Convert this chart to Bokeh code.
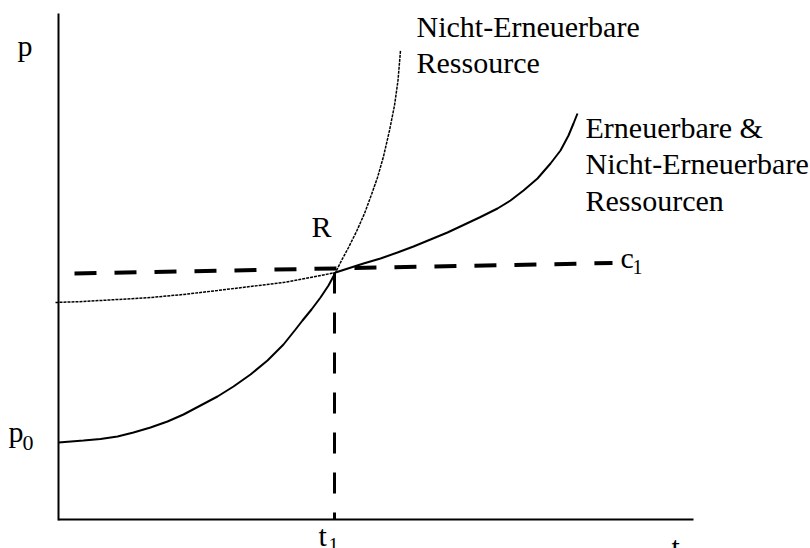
from bokeh.plotting import figure
from bokeh.models import Range1d
from bokeh.core.properties import value
from bokeh.embed import file_html
from bokeh.resources import INLINE

# ---- data (units: t along x, p along y) ----
t_axis_end = 635
p_axis_end = 506

# renewable & non-renewable (solid) curve, below R and above R
solid_t = [0, 25, 42, 59, 75, 92, 109, 125, 142, 159, 175, 192, 209, 225,
           237, 244, 253, 262, 270, 277,
           305, 322, 339, 355, 372, 389, 405, 422, 439, 452, 465, 479, 492,
           502, 510, 515, 519]
solid_p = [77, 79, 80.5, 83, 87, 92, 98, 105, 114, 123, 133, 145, 159, 175,
           190, 199, 210, 222, 234, 247,
           256, 261, 267, 273, 280, 287, 294.5, 302.5, 311, 319, 329, 341, 356,
           369, 384, 396, 406]

# non-renewable resource (dotted) curve
dot_t = [-3, 25, 59, 92, 125, 159, 192, 225, 252, 277, 283, 290, 298, 306,
         313, 319, 325, 331, 336, 339.5, 342]
dot_p = [217, 218, 220, 222, 225, 229, 233, 237, 242, 247, 259, 272, 288,
         306, 325, 342, 363, 389, 414, 439, 469]

# backstop cost line c1
c1_t = [16, 554]
c1_p = [246, 256.5]

# point R
R_t = 276
R_p = 247

FONT = value("Liberation Serif")

p = figure(width=810, height=548, output_backend="svg", toolbar_location=None,
           x_range=Range1d(-58, 752), y_range=Range1d(-29, 519),
           min_border=0, x_axis_location=None, y_axis_location=None)
p.grid.visible = False
p.outline_line_color = None
p.background_fill_color = "white"
p.border_fill_color = "white"

# axes
p.line([0, 0], [-1, p_axis_end], line_color="black", line_width=2)
p.line([0, t_axis_end], [0, 0], line_color="black", line_width=2)

# curves
p.line(dot_t, dot_p, line_color="black", line_width=1.5, line_dash="3 1")
p.line(solid_t, solid_p, line_color="black", line_width=2)

# dashed lines
p.line(c1_t, c1_p, line_color="black", line_width=4, line_dash="22 18")
p.line([R_t, R_t], [R_p, 0], line_color="black", line_width=3, line_dash="21 19")

def label(x, y, s, size=30):
    p.text(x=[x], y=[y + 0.34 * size], text=[s], text_font=FONT,
           text_font_size=f"{size}px",
           text_baseline="alphabetic", text_align="left", text_color="black")

label(-41, 464, "p")
label(-50, 78, "p")
label(-36, 69, "0", 22)
label(260, -26, "t")
label(270, -32, "1", 20)
label(613, -37, "t")
label(358, 483, "Nicht-Erneuerbare")
label(358, 447, "Ressource")
label(527, 382, "Erneuerbare &")
label(527, 346, "Nicht-Erneuerbare")
label(527, 309, "Ressourcen")
label(253, 283, "R")
label(562, 252, "c")
label(574, 246, "1", 20)

open("out.html", "w").write(file_html(p, INLINE))
